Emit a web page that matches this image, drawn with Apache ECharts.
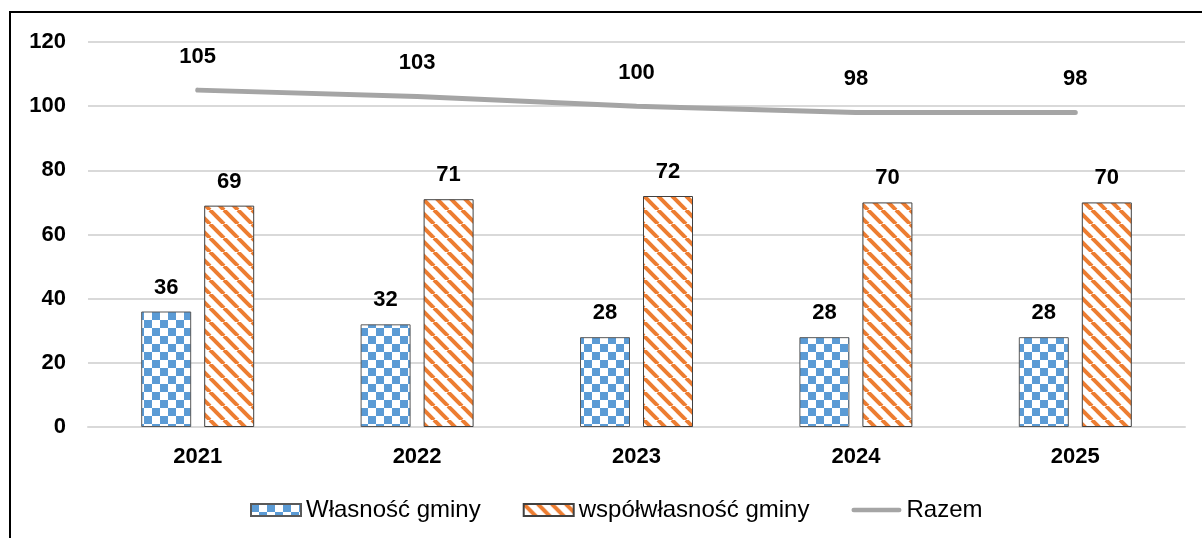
<!DOCTYPE html>
<html><head><meta charset="utf-8">
<script src="https://cdn.jsdelivr.net/npm/echarts@6/dist/echarts.min.js"></script>
<style>html,body{margin:0;padding:0;background:#fff;}#frame{position:absolute;left:9px;top:11px;width:1200px;height:540px;border:2px solid #000;box-sizing:border-box;}#c{position:absolute;left:0;top:0;width:1202px;height:538px;}</style>
</head><body><div id="frame"></div><div id="c"></div>
<script>
const categories = ['2021','2022','2023','2024','2025'];
const wlasnosc = [36, 32, 28, 28, 28];
const wspolwlasnosc = [69, 71, 72, 70, 70];
const razem = [105, 103, 100, 98, 98];
const yTicks = [0, 20, 40, 60, 80, 100, 120];

function checker(){
  const c = document.createElement('canvas'); c.width = 16; c.height = 16;
  const g = c.getContext('2d');
  g.fillStyle = '#fff'; g.fillRect(0,0,16,16);
  g.fillStyle = '#5B9BD5'; g.fillRect(0,0,8,8); g.fillRect(8,8,8,8);
  return c;
}
function stripes(){
  const s = 14;
  const c = document.createElement('canvas'); c.width = s; c.height = s;
  const g = c.getContext('2d');
  g.fillStyle = '#fff'; g.fillRect(0,0,s,s);
  g.strokeStyle = '#ED7D31'; g.lineWidth = 4;
  for (const o of [-s, 0, s]) { g.beginPath(); g.moveTo(o, 0); g.lineTo(o + s, s); g.stroke(); }
  return c;
}
const font = 'Liberation Sans, Arial, sans-serif';
const boldLabel = {show: true, position: 'top', fontFamily: font, fontSize: 22, fontWeight: 'bold', color: '#000'};
const chart = echarts.init(document.getElementById('c'));
chart.setOption({
  animation: false,
  grid: {left: 88, right: 17, top: 42, bottom: 111, containLabel: false},
  legend: {
    top: 493, left: 245, itemWidth: 50, itemHeight: 12, itemGap: 42,
    textStyle: {fontFamily: font, fontSize: 24, color: '#000'},
    data: [
      {name: 'Własność gminy', icon: 'rect'},
      {name: 'współwłasność gminy', icon: 'rect'},
      {name: 'Razem', icon: 'path://M2.5,0 H52.5 A2.5,2.5 0 0 1 52.5,5 H2.5 A2.5,2.5 0 0 1 2.5,0 Z'}
    ]
  },
  xAxis: {
    type: 'category', data: categories,
    axisLine: {lineStyle: {color: '#D9D9D9', width: 2}},
    axisTick: {show: false},
    axisLabel: {fontFamily: font, fontSize: 22, fontWeight: 'bold', color: '#000', margin: 19}
  },
  yAxis: {
    type: 'value', min: 0, max: 120, interval: 20,
    axisLine: {show: false}, axisTick: {show: false},
    splitLine: {lineStyle: {color: '#D9D9D9', width: 2}},
    axisLabel: {fontFamily: font, fontSize: 22, fontWeight: 'bold', color: '#000', margin: 22,
      formatter: v => yTicks.includes(v) ? String(v) : ''}
  },
  series: [
    {name: 'Własność gminy', type: 'bar', data: wlasnosc, barWidth: 50, barGap: '26%',
     itemStyle: {color: {image: checker(), repeat: 'repeat'}, borderColor: '#595959', borderWidth: 1},
     label: Object.assign({distance: 13}, boldLabel)},
    {name: 'współwłasność gminy', type: 'bar', data: wspolwlasnosc, barWidth: 50,
     itemStyle: {color: {image: stripes(), repeat: 'repeat'}, borderColor: '#404040', borderWidth: 1},
     label: Object.assign({distance: 13}, boldLabel)},
    {name: 'Razem', type: 'line', data: razem, symbol: 'circle', symbolSize: 1, showSymbol: true,
     lineStyle: {color: '#A5A5A5', width: 5, cap: 'round'}, itemStyle: {color: '#A5A5A5'},
     label: Object.assign({distance: 22}, boldLabel)}
  ]
});
</script></body></html>
